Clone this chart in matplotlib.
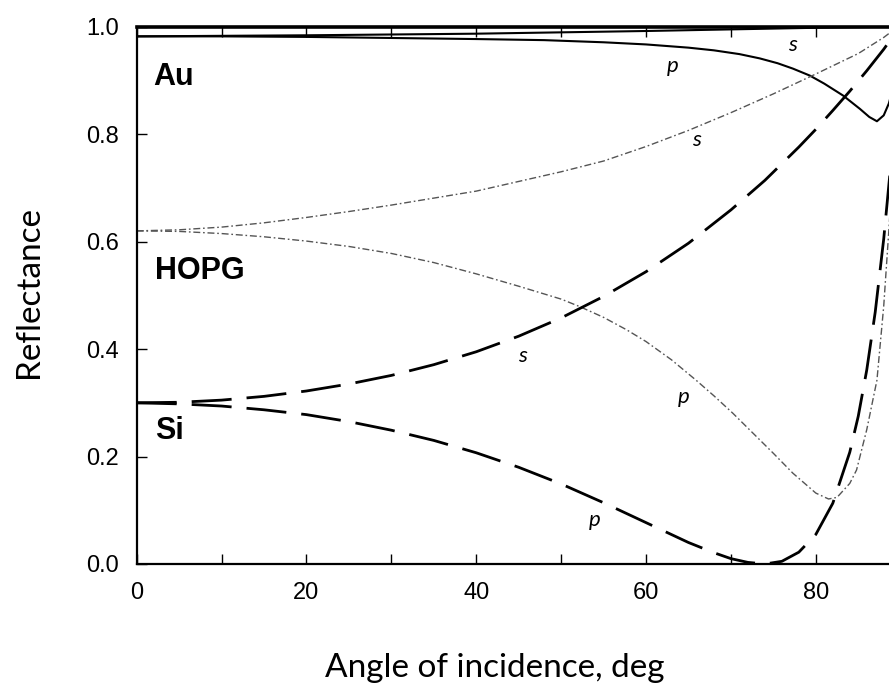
import matplotlib
matplotlib.use("Agg")
import matplotlib.pyplot as plt
from matplotlib.ticker import MultipleLocator

# ---- data ----
au_s_x = [0, 20, 40, 60, 70, 80, 89]
au_s_y = [0.982, 0.984, 0.987, 0.992, 0.995, 0.998, 1.0]

au_p_x = [0, 10, 20, 30, 40, 48, 55, 60, 65, 68, 71, 73.4, 75.5, 77.3, 79.3, 81, 83.2, 85.2, 86.3, 87.2,
          88, 88.6, 89]
au_p_y = [0.982, 0.982, 0.981, 0.979, 0.977, 0.975, 0.971, 0.967, 0.961, 0.956, 0.949, 0.941, 0.932,
          0.922, 0.909, 0.894, 0.872, 0.847, 0.832, 0.824, 0.835, 0.857, 0.880]

hopg_s_x = [0, 5, 10, 15, 20, 25, 30, 35, 40, 45, 50, 55, 60, 65, 70, 75, 80, 85, 88, 89]
hopg_s_y = [0.620, 0.622, 0.627, 0.635, 0.645, 0.656, 0.668, 0.681, 0.694, 0.712, 0.730, 0.750, 0.777,
            0.807, 0.840, 0.875, 0.912, 0.950, 0.980, 0.992]

hopg_p_x = [0, 5, 10, 15, 20, 25, 30, 35, 40, 45, 50, 52.2, 55, 57.7, 60, 63, 65.9, 68, 70.2, 73.4, 75,
            77.3, 80, 81.5, 82.5, 84, 84.8, 86, 87.2, 88, 88.6, 89]
hopg_p_y = [0.620, 0.619, 0.615, 0.609, 0.601, 0.591, 0.578, 0.561, 0.540, 0.517, 0.493, 0.479, 0.459,
            0.436, 0.414, 0.380, 0.342, 0.313, 0.281, 0.231, 0.206, 0.169, 0.132, 0.121, 0.124, 0.150,
            0.175, 0.250, 0.342, 0.480, 0.620, 0.720]

si_s_x = [0, 5, 10, 15, 20, 25, 30, 35, 40, 45, 50, 55, 60, 65, 70, 74, 78, 80, 82, 84, 86, 88, 89]
si_s_y = [0.300, 0.301, 0.305, 0.312, 0.322, 0.335, 0.351, 0.371, 0.395, 0.424, 0.458, 0.498, 0.544,
          0.597, 0.659, 0.714, 0.776, 0.809, 0.844, 0.880, 0.918, 0.958, 0.980]

si_p_x = [0, 5, 10, 15, 20, 25, 30, 35, 40, 45, 50, 55, 60, 65, 68, 70, 72, 74, 76, 78, 80, 82, 84, 85,
          86, 87, 88, 88.6, 89]
si_p_y = [0.300, 0.298, 0.294, 0.287, 0.278, 0.265, 0.249, 0.230, 0.207, 0.180, 0.149, 0.114, 0.077,
          0.040, 0.021, 0.010, 0.003, 0.000, 0.005, 0.022, 0.055, 0.113, 0.208, 0.275, 0.361, 0.469,
          0.605, 0.705, 0.770]

x_ticks = [0, 20, 40, 60, 80]
y_ticks = [0.0, 0.2, 0.4, 0.6, 0.8, 1.0]

# ---- figure ----
fig = plt.figure(figsize=(8.89, 6.84), dpi=100)
ax = fig.add_axes([136.7 / 889, 120 / 684, 764 / 889, 537.3 / 684])

ax.plot(au_s_x, au_s_y, color="black", lw=1.5)
ax.plot(au_p_x, au_p_y, color="black", lw=1.5)
ax.plot(hopg_s_x, hopg_s_y, color="#555555", lw=1.0, dashes=(5, 2, 1.2, 2))
ax.plot(hopg_p_x, hopg_p_y, color="#555555", lw=1.0, dashes=(5, 2, 1.2, 2))
ax.plot(si_s_x, si_s_y, color="black", lw=2.0, dashes=(14.4, 5.4))
ax.plot(si_p_x, si_p_y, color="black", lw=2.0, dashes=(14.4, 5.4))

ax.set_xlim(0, 90)
ax.set_ylim(0, 1.0)
ax.set_xticks(x_ticks)
ax.set_xticklabels([str(v) for v in x_ticks])
ax.xaxis.set_minor_locator(MultipleLocator(10))
ax.set_yticks(y_ticks)
ax.set_yticklabels(["%.1f" % v for v in y_ticks])

ax.tick_params(axis="both", which="both", direction="in", length=7, width=1.0,
               top=True, right=True, pad=13)
for lab in ax.get_xticklabels() + ax.get_yticklabels():
    lab.set_fontfamily("Liberation Sans")
    lab.set_fontsize(17)

for side in ["left", "bottom"]:
    ax.spines[side].set_linewidth(1.6)
ax.spines["top"].set_linewidth(2.6)
ax.spines["right"].set_linewidth(1.6)

# material labels
bold = dict(fontfamily="Liberation Sans", fontweight="bold", fontsize=22, ha="left", va="center")
ax.text(2.0, 0.907, "Au", **bold)
ax.text(2.2, 0.545, "HOPG", **bold)
ax.text(2.2, 0.247, "Si", **bold)

# polarization labels
ital = dict(fontfamily="Lato", fontstyle="italic", fontsize=16, ha="center", va="center")
ax.text(77.2, 0.966, "s", **ital)
ax.text(63.1, 0.926, "p", **ital)
ax.text(65.9, 0.789, "s", **ital)
ax.text(64.4, 0.311, "p", **ital)
ax.text(45.5, 0.387, "s", **ital)
ax.text(54.0, 0.082, "p", **ital)

# axis titles
fig.text(29.5 / 889, 1 - 292 / 684, "Reflectance", rotation=90, ha="center", va="center",
         fontfamily="Lato", fontsize=24)
fig.text(495 / 889, 1 - 677 / 684, "Angle of incidence, deg", ha="center", va="baseline",
         fontfamily="Lato", fontsize=24)

fig.savefig("out.png", dpi=100)
